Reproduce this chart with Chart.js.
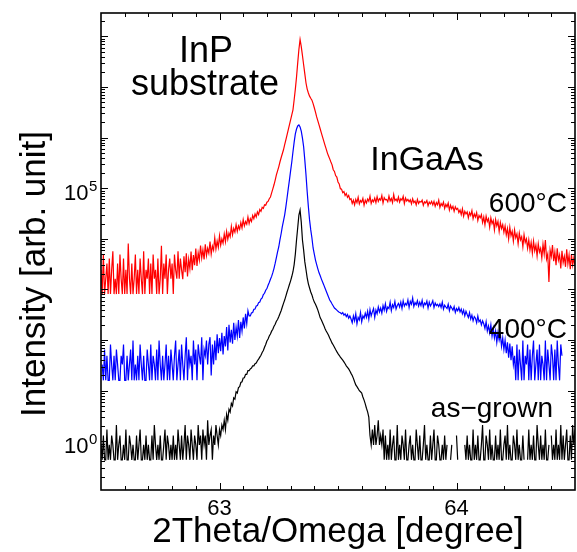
<!DOCTYPE html>
<html>
<head>
<meta charset="utf-8">
<script src="https://cdn.jsdelivr.net/npm/chart.js@4"></script>
<style>
html,body{margin:0;padding:0;background:#ffffff;}
#wrap{width:577px;height:552px;position:relative;}
</style>
</head>
<body>
<div id="wrap"><canvas id="c" width="577" height="552"></canvas></div>
<script>
// ---- x grid (2Theta/Omega, degree) ----
const thetaStart = 62.5;
const thetaStep = 0.005;

// ---- series values (intensity, arb. unit), one value per grid step, null = no counts ----
const asGrown = [
.85,.43,1.3,.43,.43,1.7,.43,.85,.43,1.3,.85,.43,.43,2.1,.43,.85,1.3,.43,.43,.85,
.43,1.7,.43,.43,1.3,.85,.43,.85,.43,.43,1.3,.43,.85,1.7,.43,.43,.85,.43,1.3,.43,
.85,.43,.43,1.3,.43,2.1,.85,.43,.85,.43,1.3,.43,.43,.85,1.7,.43,1.3,.85,.43,.85,
.43,1.3,.43,.85,.43,1.7,.85,.43,1.3,.43,.85,2.1,.43,1.3,.85,.43,1.7,.85,.43,1.3,
.85,.43,2.1,.85,1.3,.43,1.7,.85,1.3,.43,2.6,.85,1.3,1.7,.43,1.3,.85,2.1,1.3,.85,
1.7,1.3,2.1,
1.7,2.6,1.7,3.4,2.6,4.3,3.8,5.6,5.0,7.2,6.8,9.5,9.0,11.5,12,14.5,15,17.8,18,21,
21,25,25,27,28,31,31,34,35,39,42,46,50,57,62,72,82,96,105,120,
132,150,163,188,205,235,255,288,330,380,450,530,617,740,891,1050,1250,1480,1800,2240,
3100,5000,9500,16600,29500,37000,21400,9500,6000,3500,2450,1700,1290,1070,890,780,650,562,510,450,
390,330,275,250,220,195,170,151,138,125,110,98,87,80,72,65,59,54,50,46,
43,40,37,34,31,29,27,24.5,22,20,17.5,15,13,12,11,10,9.5,9,7.5,6.5,
5.5,4.5,3.8,3.0,
1.3,.85,1.7,.85,2.1,.85,1.3,2.6,.85,1.3,.85,1.7,
.43,1.3,.43,.85,.43,1.7,.43,.85,1.3,.43,.43,2.1,.43,.85,.43,1.3,.85,.43,1.7,.43,
.43,.85,1.3,.43,.85,.43,.43,1.7,.85,.43,1.3,.43,.43,.85,2.1,.43,.85,.43,.43,1.3,
.43,.85,1.7,.43,.43,1.3,.85,.43,.43,.85,.43,1.3,.43,.85,
null,null,.43,.85,null,null,null,1.3,.43,null,null,.43,null,null,.85,
.43,1.3,.43,.85,.43,.43,1.7,.43,.85,.43,1.3,.43,.43,.85,2.1,.43,.43,1.3,.85,.43,
1.7,.43,.85,.43,.43,1.3,.43,.85,.43,1.7,.43,.43,.85,1.3,.43,2.1,.43,.85,.43,.43,
1.3,.85,.43,1.7,.43,.85,.43,.43,1.3,.43,null,null,.43,1.7,.43,.85,.43,1.3,.43,.43,
2.1,.85,.43,1.3,.43,.85,.43,1.7,.43,.43,.85,null,1.3,.43,.85,.43,1.7,.43,.85,.43,
2.1,.43,1.3,.43,.85,1.7,.43,.43,1.3,.43,2.1,.85,1.7
];

const anneal400 = [
null,
33,16,65,16,49,16,16,82,33,16,49,16,65,33,16,16,49,33,82,16,
16,49,16,33,65,16,98,16,33,16,49,16,82,33,16,49,16,16,65,33,
16,82,16,49,33,16,65,16,98,33,16,49,16,33,82,16,49,16,65,33,
16,49,98,16,33,65,16,82,33,16,49,114,16,65,33,49,16,98,33,65,
16,82,49,33,114,16,65,49,98,33,82,
114,20,82,33,98,40,130,55,110,60,140,52,120,75,180,62,200,90,160,85,
220,100,180,120,250,110,230,150,280,170,330,210,380,
300,300,345,350,405,410,470,480,550,565,645,680,790,840,965,1040,1210,1370,1590,1810,
2150,2620,3300,4270,5500,6900,9500,12600,17400,22600,29800,42700,64000,97000,145000,220000,330000,525000,815000,1.18e6,
1.48e6,1.7e6,1.78e6,1.62e6,1.35e6,980000,660000,360000,183000,85000,43000,23700,15000,10400,6600,5000,3800,3100,2550,2130,
1860,1600,1400,1230,1070,930,810,710,620,570,515,470,430,410,390,370,355,345,330,350,310,330,290,320,270,300,
260,220,300,240,330,210,280,250,350,230,300,270,
340,280,370,260,400,300,360,420,280,390,330,450,
360,430,340,480,390,520,370,450,420,560,380,500,440,580,410,480,530,
450,560,420,600,470,530,490,620,440,580,510,680,460,550,500,600,470,
560,480,610,450,540,500,590,430,560,470,520,600,440,540,480,510,460,
520,440,560,410,490,450,420,510,380,470,430,390,460,350,420,380,440,
360,410,330,390,300,370,320,280,350,260,310,240,290,270,220,300,230,250,200,240,
210,170,230,150,190,140,200,120,170,110,150,90,140,100,130,75,110,65,100,55,90,45,85,40,75,33,
49,16,82,16,65,33,16,98,16,49,33,82,16,65,16,49,98,16,33,65,
16,82,16,49,33,16,98,16,65,33,16,82,49,16,65,16,98,33,16,82,49,
null,null,null,null,null,null,null,null,null,null,null
];

const anneal600 = [
2440,810,4880,810,1630,3250,810,4070,810,2440,5700,810,1630,810,3250,810,4880,1630,810,4070,
810,2440,810,8100,1630,810,3250,810,1630,4880,810,2440,810,4070,1630,810,5700,810,2440,1630,
4070,810,3250,810,4880,1630,2440,810,4070,810,1630,7300,810,3250,1630,4880,810,2440,4070,1630,
3250,810,4880,2440,1630,5700,1630,4070,2440,
1600,4500,2200,5200,1800,3900,2600,5600,2400,4800,3000,6400,2900,5300,3800,7400,4200,6100,3900,7800,
4700,6500,5200,8800,5000,7200,6000,10500,6300,9000,6800,11500,7500,10000,8200,12500,8800,14000,9800,13000,
11000,17500,12000,16000,13500,19000,14000,18000,15500,21000,16500,24000,18000,22000,19500,27000,20000,25000,22000,29000,
25000,31000,27000,34000,30000,38000,35000,42000,40000,47000,46000,53000,55000,62000,
67000,81000,97000,117000,145000,183000,220000,265000,330000,400000,480000,575000,725000,900000,1.13e6,1.42e6,1.78e6,2.24e6,2.82e6,3.55e6,
5.6e6,9.1e6,1.58e7,3.0e7,5.5e7,8.7e7,6.3e7,4.2e7,2.75e7,1.82e7,1.2e7,9.1e6,7.6e6,6.6e6,6.0e6,5.5e6,4.7e6,3.9e6,3.2e6,2.57e6,
2.14e6,1.78e6,1.48e6,1.23e6,1.02e6,850000,710000,600000,500000,435000,380000,330000,
290000,232000,215000,178000,166000,133000,122000,98000,96000,82000,86000,72000,79000,66000,72000,60000,
62000,50000,58000,47000,60000,52000,66000,49000,57000,53000,63000,46000,58000,51000,61000,55000,70000,50000,59000,54000,
64000,52000,68000,55000,62000,58000,72000,51000,65000,59000,60000,54000,70000,56000,63000,52000,75000,57000,61000,55000,
67000,53000,62000,58000,69000,50000,64000,56000,60000,54000,
59000,49000,62000,52000,56000,47000,60000,50000,55000,53000,58000,46000,54000,51000,57000,45000,53000,49000,55000,47000,
55000,44000,52000,47000,58000,42000,50000,45000,53000,40000,48000,43000,51000,37000,46000,39000,44000,35000,43000,38000,
40000,33000,37000,30000,39000,28000,35000,31000,34000,26000,33000,29000,36000,25000,31000,27000,33000,23000,29000,26000,
30000,21000,27000,19000,28000,22000,25000,17000,26000,20000,23000,15000,24000,18000,22000,14000,21000,16000,19000,13500,
18000,12000,16000,10000,17000,11500,14000,9000,15000,10500,12500,8000,13000,9500,11000,7000,12000,8500,10000,6500,
9500,6000,8500,5200,9000,5800,7500,4600,8000,5500,6500,4200,7800,5000,9500,4000,5000,1400,6000,4500,
7500,3600,5500,3000,6500,3800,4800,2600,5800,3400,4500,2800,6200,3200,4800,2500,5000,3000,4200,2900
];

const seriesNames = ['as\u2212grown', '400\u00B0C', '600\u00B0C'];
const seriesValues = [asGrown, anneal400, anneal600];
const seriesColors = ['#000000', '#0000ff', '#ff0000'];

// ---- axes ----
const xRange = [62.5, 64.5];
const yRange = [0.109, 2.9e8];
const xMinorStep = 0.1;
const xTickValues = [63, 64];
const xTickLabels = ['63', '64'];
const yTickValues = [1, 1e5];
const yTickBase = ['10', '10'];
const yTickExp = ['0', '5'];
const xTitle = '2Theta/Omega [degree]';
const yTitle = 'Intensity [arb. unit]';

// ---- text annotations ----
const notes = [
  {text: 'InP', x: 206, y: 62, size: 36, align: 'center'},
  {text: 'substrate', x: 205, y: 95, size: 36, align: 'center'},
  {text: 'InGaAs', x: 427, y: 170, size: 34, align: 'center'},
  {text: '600\u00B0C', x: 567, y: 212, size: 28, align: 'right'},
  {text: '400\u00B0C', x: 567, y: 338, size: 28, align: 'right'},
  {text: 'as\u2212grown', x: 553, y: 417, size: 28, align: 'right'}
];

const FONT = '"Liberation Sans", Arial, Helvetica, sans-serif';

seriesValues.forEach((arr, k) => {
  if (arr.length !== 401) console.error('series ' + k + ' length ' + arr.length);
});

function toPoints(vals) {
  return vals.map((v, i) => ({x: +(thetaStart + i * thetaStep).toFixed(4), y: v}));
}

const framePlugin = {
  id: 'frame',
  afterDraw(chart) {
    const {ctx, chartArea: a, scales} = chart;
    const xs = scales.x, ys = scales.y;
    ctx.save();
    ctx.strokeStyle = '#000';
    ctx.lineWidth = 1;
    ctx.beginPath();
    const nX = Math.round((xRange[1] - xRange[0]) / xMinorStep);
    for (let k = 1; k < nX; k++) {
      const v = xRange[0] + k * xMinorStep;
      const px = Math.round(xs.getPixelForValue(v)) + 0.5;
      const major = xTickValues.some(t => Math.abs(t - v) < 1e-6);
      const len = major ? 7 : 4;
      ctx.moveTo(px, a.bottom); ctx.lineTo(px, a.bottom - len);
      ctx.moveTo(px, a.top); ctx.lineTo(px, a.top + len);
    }
    for (let e = -1; e <= 8; e++) {
      for (let m = 1; m <= 9; m++) {
        const v = m * Math.pow(10, e);
        if (v <= yRange[0] || v >= yRange[1]) continue;
        const py = Math.round(ys.getPixelForValue(v)) + 0.5;
        const len = m === 1 ? 7 : 4;
        ctx.moveTo(a.left, py); ctx.lineTo(a.left + len, py);
        ctx.moveTo(a.right, py); ctx.lineTo(a.right - len, py);
      }
    }
    ctx.stroke();
    ctx.lineWidth = 1.6;
    ctx.strokeRect(a.left, a.top, a.right - a.left, a.bottom - a.top);

    ctx.fillStyle = '#000';
    ctx.font = '22px ' + FONT;
    ctx.textAlign = 'center';
    ctx.textBaseline = 'alphabetic';
    xTickValues.forEach((v, i) => {
      ctx.fillText(xTickLabels[i], xs.getPixelForValue(v), 515);
    });
    yTickValues.forEach((v, i) => {
      const py = ys.getPixelForValue(v);
      ctx.font = '22px ' + FONT;
      ctx.textAlign = 'right';
      ctx.fillText(yTickBase[i], 88.5, py + 12);
      ctx.font = '15px ' + FONT;
      ctx.textAlign = 'left';
      ctx.fillText(yTickExp[i], 89, py + 3);
    });
    ctx.font = '35px ' + FONT;
    ctx.textAlign = 'center';
    ctx.fillText(xTitle, (a.left + a.right) / 2, 542);
    ctx.save();
    ctx.translate(45, 274);
    ctx.rotate(-Math.PI / 2);
    ctx.fillText(yTitle, 0, 0);
    ctx.restore();
    notes.forEach(n => {
      ctx.font = n.size + 'px ' + FONT;
      ctx.textAlign = n.align;
      ctx.fillText(n.text, n.x, n.y);
    });
    ctx.restore();
  }
};

new Chart(document.getElementById('c'), {
  type: 'line',
  data: {
    datasets: seriesValues.map((vals, k) => ({
      label: seriesNames[k],
      data: toPoints(vals),
      borderColor: seriesColors[k],
      backgroundColor: seriesColors[k],
      borderWidth: 1.2,
      pointRadius: 0,
      tension: 0,
      spanGaps: false,
      fill: false
    }))
  },
  options: {
    responsive: false,
    animation: false,
    devicePixelRatio: 1,
    layout: {padding: {left: 101, top: 13, right: 2, bottom: 62}},
    plugins: {legend: {display: false}, tooltip: {enabled: false}},
    scales: {
      x: {type: 'linear', min: xRange[0], max: xRange[1], display: false},
      y: {type: 'logarithmic', min: yRange[0], max: yRange[1], display: false}
    }
  },
  plugins: [framePlugin]
});
</script>
</body>
</html>
